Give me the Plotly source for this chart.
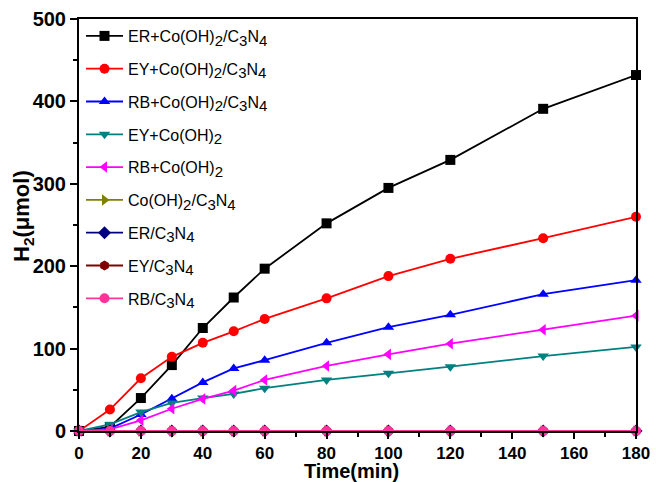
import plotly.graph_objects as go

time = [0, 10, 20, 30, 40, 50, 60, 80, 100, 120, 150, 180]

er_co_c3n4 = [0, 5, 40, 80, 125, 162, 197, 252, 295, 329, 391, 432]
ey_co_c3n4 = [0, 26, 64, 90, 107, 121, 136, 161, 188, 209, 234, 260]
rb_co_c3n4 = [0, 3, 20, 39, 59, 76, 86, 107, 126, 141, 166, 183]
ey_co = [0, 8, 23, 34, 40, 45, 52, 62, 70, 78, 91, 102]
rb_co = [0, 2, 13, 27, 39, 49, 62, 79, 93, 106, 123, 140]
co_c3n4 = [0] * 12
er_c3n4 = [0] * 12
ey_c3n4 = [0] * 12
rb_c3n4 = [0] * 12

x_title = "<b>Time(min)</b>"
y_title = "<b>H<sub>2</sub>(μmol)</b>"


def sub(t):
    return "<sub><span style='font-size:15px'>%s</span></sub>" % t


names = [
    "ER+Co(OH)" + sub("2") + "/C" + sub("3") + "N" + sub("4"),
    "EY+Co(OH)" + sub("2") + "/C" + sub("3") + "N" + sub("4"),
    "RB+Co(OH)" + sub("2") + "/C" + sub("3") + "N" + sub("4"),
    "EY+Co(OH)" + sub("2"),
    "RB+Co(OH)" + sub("2"),
    "Co(OH)" + sub("2") + "/C" + sub("3") + "N" + sub("4"),
    "ER/C" + sub("3") + "N" + sub("4"),
    "EY/C" + sub("3") + "N" + sub("4"),
    "RB/C" + sub("3") + "N" + sub("4"),
]
series = [er_co_c3n4, ey_co_c3n4, rb_co_c3n4, ey_co, rb_co, co_c3n4, er_c3n4, ey_c3n4, rb_c3n4]
colors = ["#000000", "#FF0000", "#0000FF", "#008080", "#FF00FF", "#808000", "#000080", "#800000", "#FF3399"]
symbols = ["square", "circle", "triangle-up", "triangle-down", "triangle-left", "triangle-right", "diamond", "hexagon", "circle"]

fig = go.Figure()
for i, (n, s, c, m) in enumerate(zip(names, series, colors, symbols)):
    fig.add_trace(go.Scatter(
        x=time, y=s, name=n, mode="lines+markers", legendgroup="g%d" % i,
        line=dict(color=c, width=1.8),
        marker=dict(symbol=m, color=c, size=10),
        cliponaxis=False,
    ))

FONT = "Arial, Liberation Sans"
axis_common = dict(
    showline=True, linecolor="black", linewidth=2, mirror=True,
    ticks="outside", tickwidth=2, tickcolor="black",
    showgrid=False, zeroline=False, automargin=False,
)

fig.update_xaxes(
    range=[0, 180], tickvals=list(range(0, 181, 20)), ticklen=6,
    tickfont=dict(family=FONT, size=17, color="black", weight="bold"),
    minor=dict(ticks="outside", ticklen=4, tickwidth=2, tickcolor="black", dtick=10, tick0=0),
    **axis_common,
)
fig.update_yaxes(
    range=[0, 500], tickvals=list(range(0, 501, 100)), ticklen=7,
    tickfont=dict(family=FONT, size=20, color="black", weight="bold"),
    minor=dict(ticks="outside", ticklen=4, tickwidth=2, tickcolor="black", dtick=50, tick0=0),
    **axis_common,
)

fig.add_annotation(text=x_title, xref="paper", yref="paper", x=0.49, y=-0.128,
                   xanchor="center", yanchor="bottom", showarrow=False,
                   font=dict(family=FONT, size=20, color="black"))
fig.add_annotation(text=y_title, xref="paper", yref="paper", x=-0.1005, y=0.522,
                   xanchor="center", yanchor="middle", showarrow=False, textangle=-90,
                   font=dict(family=FONT, size=22, color="black"))

fig.update_layout(
    width=656, height=482,
    margin=dict(l=79, r=20, t=19, b=51),
    plot_bgcolor="white", paper_bgcolor="white",
    legend=dict(
        x=0.0036, y=1.0, xanchor="left", yanchor="top",
        font=dict(family=FONT, size=16, color="black"),
        bgcolor="rgba(0,0,0,0)", tracegroupgap=9, itemwidth=37,
    ),
)

fig.write_html("out.html")
